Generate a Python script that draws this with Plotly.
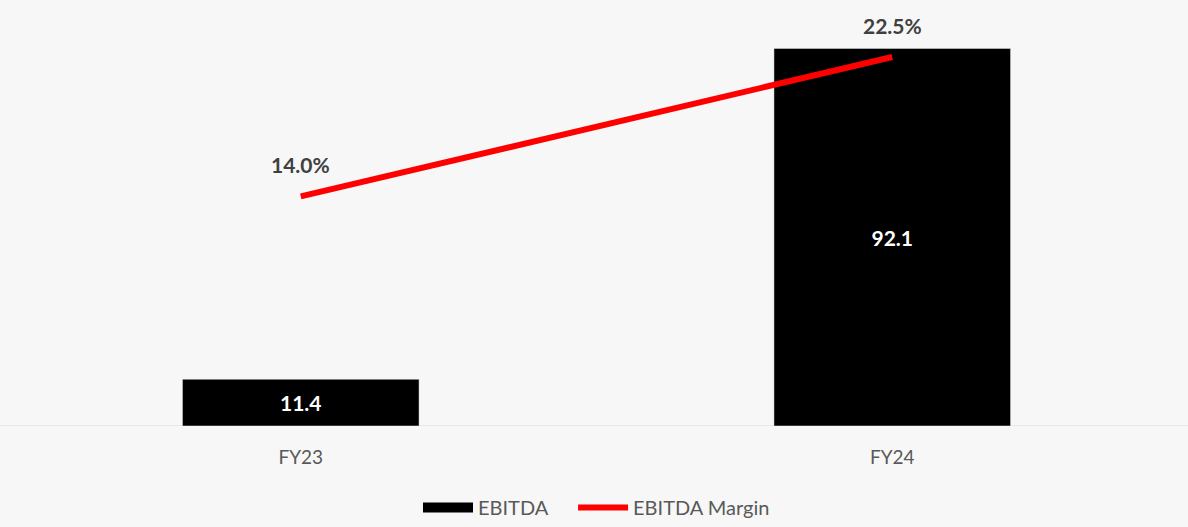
import plotly.graph_objects as go

categories = ["FY23", "FY24"]
ebitda = [11.4, 92.1]
margin_pct = [14.0, 22.5]
ebitda_labels = ["11.4", "92.1"]
margin_labels = ["14.0%", "22.5%"]

FONT = "Lato, 'Open Sans', sans-serif"

fig = go.Figure()
fig.add_trace(go.Bar(
    x=categories, y=ebitda, name="EBITDA",
    marker=dict(color="#000000"),
    text=ebitda_labels, textposition="inside", insidetextanchor="middle",
    textfont=dict(color="#ffffff", size=21, family=FONT, weight="bold"),
    yaxis="y", showlegend=False,
))
# legend swatch for the bar series (wide black block like the original)
fig.add_trace(go.Scatter(
    x=[None], y=[None], name="EBITDA" + "\u00a0" * 4, mode="lines",
    line=dict(color="#000000", width=14), yaxis="y",
))
fig.add_trace(go.Scatter(
    x=categories, y=margin_pct, name="EBITDA Margin",
    mode="lines",
    line=dict(color="#ff0000", width=6),
    yaxis="y2", cliponaxis=False,
))
for c, v, t in zip(categories, margin_pct, margin_labels):
    fig.add_annotation(x=c, y=v, yref="y2", text=t, showarrow=False, yshift=32,
                       font=dict(color="#404040", size=21, family=FONT, weight="bold"))

fig.add_shape(type="line", xref="paper", yref="y", x0=-0.01, x1=1, y0=0, y1=0,
              line=dict(color="#d9d9d9", width=1), layer="below")

fig.update_layout(
    width=1188, height=527,
    margin=dict(l=5, r=0, t=16, b=96),
    paper_bgcolor="#f7f7f7", plot_bgcolor="rgba(0,0,0,0)",
    bargap=0.6,
    showlegend=True,
    legend=dict(orientation="h", x=0.5, xanchor="center", y=-0.2, yanchor="middle",
                itemwidth=50,
                font=dict(color="#595959", size=20, family=FONT), bgcolor="rgba(0,0,0,0)"),
    font=dict(family=FONT),
    xaxis=dict(showline=False, ticks="",
               tickfont=dict(color="#595959", size=19, family=FONT), ticklabelstandoff=18,
               showgrid=False),
    yaxis=dict(range=[0, 100], visible=False, showgrid=False),
    yaxis2=dict(range=[0, 25], visible=False, overlaying="y", side="right", showgrid=False),
)

fig.write_html("out.html")
